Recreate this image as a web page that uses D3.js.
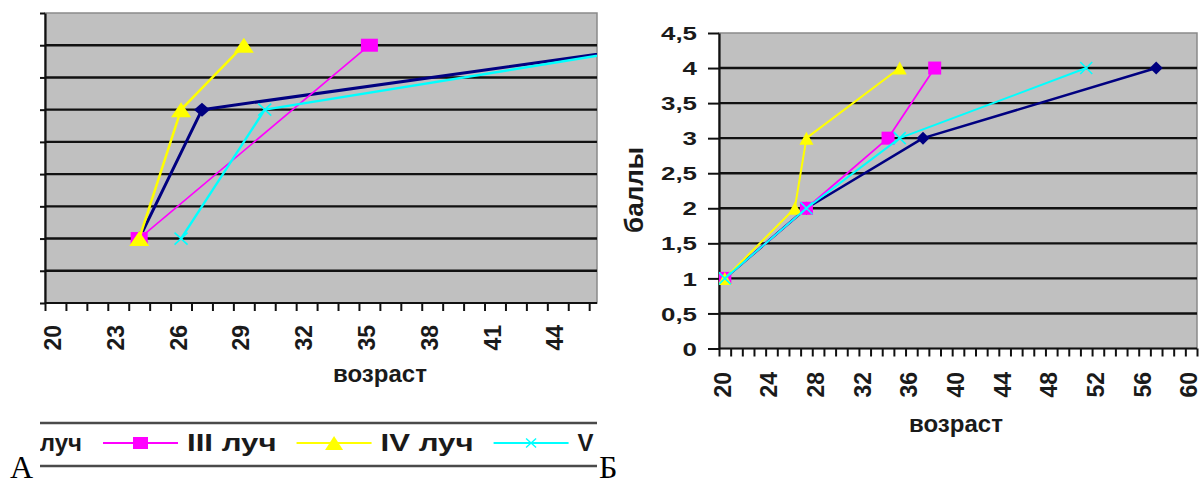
<!DOCTYPE html>
<html><head><meta charset="utf-8">
<script src="https://cdn.jsdelivr.net/npm/d3@7"></script>
<style>
html,body{margin:0;padding:0;background:#fff;}
svg{display:block;}
text{font-family:"Liberation Sans",Arial,sans-serif;font-weight:bold;fill:#1a1a1a;}
</style></head><body>
<svg id="c" width="1201" height="485"></svg>
<script>
// ---------- data ----------
const seriesNames   = ["II луч", "III луч", "IV луч", "V луч"];
const seriesColors  = ["#000080", "#FF00FF", "#FFFF00", "#00FFFF"];
const seriesMarkers = ["diamond", "square", "triangle", "cross"];

// chart А (ages / scores per series)
const agesA_II  = [24, 27, 49];  const scoresA_II  = [1, 3, 4];
const agesA_III = [24, 35];      const scoresA_III = [1, 4];
const agesA_IV  = [24, 26, 29];  const scoresA_IV  = [1, 3, 4];
const agesA_V   = [26, 30, 49];  const scoresA_V   = [1, 3, 4];

// chart Б
const agesB_II  = [20, 27, 37, 57]; const scoresB_II  = [1, 2, 3, 4];
const agesB_III = [20, 27, 34, 38]; const scoresB_III = [1, 2, 3, 4];
const agesB_IV  = [20, 26, 27, 35]; const scoresB_IV  = [1, 2, 3, 4];
const agesB_V   = [20, 27, 35, 51]; const scoresB_V   = [1, 2, 3, 4];

const ageFirst = 20, ageLast = 60;           // category range
const xTickLabelsA = [20, 23, 26, 29, 32, 35, 38, 41, 44, 47, 50, 53, 56, 59];
const xTickLabelsB = [20, 24, 28, 32, 36, 40, 44, 48, 52, 56, 60];
const yTicks = [0, 0.5, 1, 1.5, 2, 2.5, 3, 3.5, 4, 4.5];
const yGrid  = [0.5, 1, 1.5, 2, 2.5, 3, 3.5, 4];
const xTitle = "возраст", yTitle = "баллы";

const seriesA = [[agesA_II, scoresA_II], [agesA_III, scoresA_III], [agesA_IV, scoresA_IV], [agesA_V, scoresA_V]];
const seriesB = [[agesB_II, scoresB_II], [agesB_III, scoresB_III], [agesB_IV, scoresB_IV], [agesB_V, scoresB_V]];

// ---------- helpers ----------
const svg = d3.select("#c");
const nCat = ageLast - ageFirst + 1;
const defs = svg.append("defs");

function marker(g, type, cx, cy, w, h, color, sw) {
  if (type === "diamond") {
    g.append("path").attr("d", `M${cx},${cy-h/2}L${cx+w/2},${cy}L${cx},${cy+h/2}L${cx-w/2},${cy}Z`).attr("fill", color);
  } else if (type === "square") {
    g.append("rect").attr("x", cx-w/2).attr("y", cy-h/2).attr("width", w).attr("height", h).attr("fill", color);
  } else if (type === "triangle") {
    g.append("path").attr("d", `M${cx},${cy-h/2}L${cx+w/2},${cy+h/2}L${cx-w/2},${cy+h/2}Z`).attr("fill", color);
  } else {
    g.append("path").attr("d", `M${cx-w/2},${cy-h/2}L${cx+w/2},${cy+h/2}M${cx+w/2},${cy-h/2}L${cx-w/2},${cy+h/2}`)
      .attr("stroke", color).attr("stroke-width", sw || 1.6).attr("fill", "none");
  }
}

function drawChart(cfg) {
  const g = svg.append("g");
  const x = d3.scaleLinear().domain([ageFirst - 0.5, ageLast + 0.5]).range([cfg.left, cfg.left + nCat * cfg.catW]);
  const y = d3.scaleLinear().domain([0, 4.5]).range([cfg.bottom, cfg.top]);
  const clipId = "clip" + cfg.id;
  defs.append("clipPath").attr("id", clipId).append("rect")
    .attr("x", cfg.left).attr("y", 0).attr("width", cfg.right - cfg.left).attr("height", cfg.bottom + 1);

  // plot background
  g.append("rect").attr("x", cfg.left).attr("y", cfg.top).attr("width", cfg.right - cfg.left)
    .attr("height", cfg.bottom - cfg.top).attr("fill", "#C0C0C0").attr("stroke", "#8a8a8a").attr("stroke-width", 1.5);

  // gridlines
  g.selectAll(".grid").data(yGrid).join("line")
    .attr("x1", cfg.left).attr("x2", cfg.right).attr("y1", d => y(d)).attr("y2", d => y(d))
    .attr("stroke", "#111").attr("stroke-width", 2.4);

  // y axis ticks
  const yAx = d3.axisLeft(y).tickValues(yTicks).tickSize(cfg.yTickLen).tickSizeOuter(0)
    .tickFormat(cfg.yLabels ? d3.format(",") : () => "");
  const yg = g.append("g").attr("transform", `translate(${cfg.left},0)`).call(yAx);
  yg.select(".domain").attr("stroke", "#111").attr("stroke-width", 2.2);
  yg.selectAll(".tick line").attr("stroke", "#111").attr("stroke-width", 2);
  if (cfg.yLabels) {
    yg.selectAll(".tick text").each(function(d) {
      d3.select(this).text(String(d).replace(".", ","))
        .attr("x", null)
        .attr("transform", `translate(${cfg.yLabelX - cfg.left},${0}) scale(${cfg.yLabelSX},1)`)
        .attr("dy", "0.36em")
        .attr("text-anchor", "end").style("font-size", cfg.yLabelSize + "px").style("font-family", null).style("fill", "#1a1a1a");
    });
  } else {
    yg.selectAll(".tick text").remove();
  }

  // x axis: tick marks at category boundaries
  const bounds = d3.range(0, nCat + 1).map(i => ageFirst - 0.5 + i).filter(v => x(v) <= cfg.right + 0.5);
  const xAxT = d3.axisBottom(x).tickValues(bounds).tickSize(cfg.xTickLen).tickSizeOuter(0).tickFormat(() => "");
  const xg = g.append("g").attr("transform", `translate(0,${cfg.bottom})`).call(xAxT);
  xg.select(".domain").attr("stroke", "#111").attr("stroke-width", 2.2)
    .attr("d", `M${cfg.left},0H${cfg.right}`);
  xg.selectAll(".tick line").attr("stroke", "#111").attr("stroke-width", 2);

  // x labels (rotated)
  const labs = cfg.xLabels.filter(v => x(v) < cfg.right);
  const xAxL = d3.axisBottom(x).tickValues(labs).tickSize(0).tickSizeOuter(0).tickFormat(d3.format("d"));
  const xl = g.append("g").attr("transform", `translate(0,${cfg.bottom})`).call(xAxL);
  xl.select(".domain").remove();
  xl.selectAll(".tick text").attr("transform", "rotate(-90)").attr("x", -cfg.xLabelOff).attr("y", 0)
    .attr("dy", cfg.xLabelDy).attr("text-anchor", "end").style("font-size", cfg.xLabelSize + "px")
    .style("font-family", null).style("fill", "#1a1a1a");

  // x title
  g.append("text").attr("x", cfg.xTitleX).attr("y", cfg.xTitleY).attr("text-anchor", "middle")
    .style("font-size", "24px").text(xTitle);
  if (cfg.yTitle) {
    g.append("text").attr("transform", `translate(${cfg.yTitleX},${cfg.yTitleY}) rotate(-90)`)
      .attr("text-anchor", "middle").style("font-size", "26px").text(yTitle);
  }

  // series
  const pg = g.append("g").attr("clip-path", `url(#${clipId})`);
  cfg.series.forEach((s, i) => {
    const pts = s[0].map((a, k) => [x(a), y(s[1][k])]);
    pg.append("path").attr("d", d3.line()(pts)).attr("fill", "none")
      .attr("stroke", seriesColors[i]).attr("stroke-width", cfg.lineW[i]).attr("stroke-linejoin", "round");
    pts.forEach(p => marker(pg, seriesMarkers[i], p[0], p[1], cfg.mk[i][0], cfg.mk[i][1], seriesColors[i]));
  });
  return g;
}

// ---------- chart А (cropped) ----------
drawChart({
  id: "A", left: 45, right: 597, top: 13, bottom: 303, catW: 20.93,
  yTickLen: 5, xTickLen: 8, yLabels: false,
  xLabels: xTickLabelsA, xLabelOff: 22, xLabelDy: "0.22em", xLabelSize: 23,
  xTitleX: 380, xTitleY: 382,
  series: seriesA,
  lineW: [3, 1.6, 2.5, 2.4],
  mk: [[16, 14], [17, 13], [20, 15], [13, 12]]
});

// ---------- chart Б ----------
drawChart({
  id: "B", left: 719, right: 1197, top: 33, bottom: 348.5, catW: 478 / nCat,
  yTickLen: 11, xTickLen: 8, yLabels: true, yLabelX: 697, yLabelSX: 1.4, yLabelSize: 18.5,
  xLabels: xTickLabelsB, xLabelOff: 23.5, xLabelDy: "0.24em", xLabelSize: 23,
  xTitleX: 956, xTitleY: 432,
  yTitle: true, yTitleX: 643, yTitleY: 190,
  series: seriesB,
  lineW: [2.5, 1.8, 2, 2],
  mk: [[13, 13], [13, 13], [14, 13], [12, 12]]
});

// ---------- legend of chart А (cropped at both sides in the original) ----------
defs.append("clipPath").attr("id", "clipLeg").append("rect").attr("x", 40).attr("y", 400).attr("width", 557).attr("height", 80);
const leg = svg.append("g");
leg.append("line").attr("x1", 40).attr("x2", 597).attr("y1", 423).attr("y2", 423).attr("stroke", "#4a4a4a").attr("stroke-width", 2.5);
leg.append("line").attr("x1", 40).attr("x2", 597).attr("y1", 466).attr("y2", 466).attr("stroke", "#4a4a4a").attr("stroke-width", 2.5);
const li = leg.append("g").attr("clip-path", "url(#clipLeg)");
const legSX = 1.3, legLine = 75, legGap1 = 9, legGap2 = 20, legY = 443;
const legMk = [[14, 12], [15, 12], [18, 14], [10, 9]];
const last = seriesNames.length - 1;
// visible part of each legend label (first and last items are cut by the crop)
const shown = seriesNames.map((n, i) => i === 0 ? n.split(" ").pop() : (i === last ? n.split(" ")[0] : n));
const tmp = svg.append("text").style("font-size", "24px");
const widths = shown.map(n => { tmp.text(n); return tmp.node().getComputedTextLength() * legSX; });
tmp.remove();
const starts = [];
starts[1] = 103;
for (let i = 2; i <= last; i++) starts[i] = starts[i-1] + legLine + legGap1 + widths[i-1] + legGap2;
// first item: only the tail of its label is visible, ending at x = 82
li.append("text").attr("transform", `translate(82,451)`).attr("text-anchor", "end")
  .style("font-size", "24px").text(shown[0]);
seriesNames.forEach((n, i) => {
  if (i === 0) return;
  const s = starts[i];
  li.append("line").attr("x1", s).attr("x2", s + legLine).attr("y1", legY).attr("y2", legY)
    .attr("stroke", seriesColors[i]).attr("stroke-width", 2);
  marker(li, seriesMarkers[i], s + legLine / 2, legY, legMk[i][0], legMk[i][1], seriesColors[i], 1.4);
  li.append("text").attr("transform", `translate(${s + legLine + legGap1},451) scale(${i === last ? 1 : legSX},1)`)
    .style("font-size", "24px").text(shown[i]);
});

// panel letters
svg.append("text").attr("x", 10).attr("y", 478).style("font-family", "'Liberation Serif','Times New Roman',serif")
  .style("font-weight", "normal").style("font-size", "32px").style("fill", "#000").text("А");
svg.append("text").attr("x", 599).attr("y", 478).style("font-family", "'Liberation Serif','Times New Roman',serif")
  .style("font-weight", "normal").style("font-size", "32px").style("fill", "#000").text("Б");
</script>
</body></html>
